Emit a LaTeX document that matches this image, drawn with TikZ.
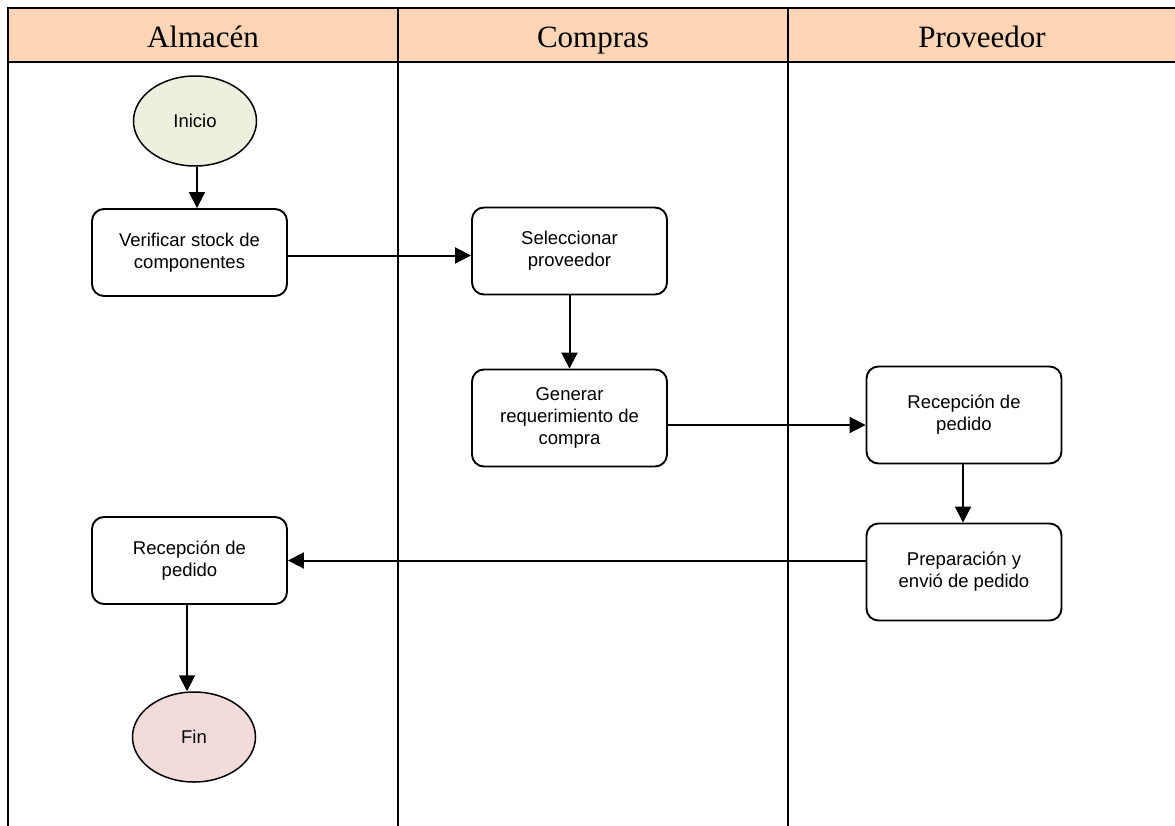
\documentclass[tikz,border=0pt]{standalone}
\usepackage{fontspec}
\setmainfont{Liberation Serif}
\newfontfamily\arial{Liberation Sans}
\usetikzlibrary{arrows.meta,calc,shapes.geometric}
\definecolor{headfill}{HTML}{FBD5B5}
\definecolor{startfill}{HTML}{EBF1DE}
\definecolor{endfill}{HTML}{F2DCDB}
\begin{document}
\begin{tikzpicture}[x=1pt,y=-1pt,
  lane/.style={draw=black,line width=1.5pt},
  headtxt/.style={font=\fontsize{31}{36}\selectfont,anchor=base,inner sep=0pt},
  proc/.style={draw=black,line width=1.9pt,rounded corners=12pt,fill=white,
    minimum width=195pt,minimum height=87pt,align=center,inner sep=0pt,
    font=\arial\fontsize{18.5}{22}\selectfont},
  term/.style={draw=black,line width=1.5pt,ellipse,minimum width=123pt,minimum height=90pt,
    inner sep=0pt,font=\arial\fontsize{18.5}{22}\selectfont},
  arr/.style={line width=2pt,-{Triangle[length=16pt,width=16pt]}}
]
\useasboundingbox (0,0) rectangle (1175,825);
% swimlane table
\fill[headfill] (8,8) rectangle (1176,62);
\draw[lane] (1176,8) -- (8,8) -- (8,826);
\draw[lane] (8,62) -- (1176,62);
\draw[lane] (398,8) -- (398,826);
\draw[lane] (788,8) -- (788,826);
\node[headtxt] (h1) at (203,47) {Almacén};
\node[headtxt] (h2) at (593,47) {Compras};
\node[headtxt] (h3) at (982,47) {Proveedor};
% nodes
\node[term,fill=startfill] (ini) at (195,121) {Inicio};
\node[proc] (ver) at (189.5,252.5) {Verificar stock de\\componentes};
\node[proc] (sel) at (569.5,251) {Seleccionar\\proveedor};
\node[proc,minimum height=97pt] (gen) at (569.5,418) {Generar\\requerimiento de\\compra};
\node[proc,minimum height=97pt] (recp) at (964,415) {Recepción de\\pedido};
\node[proc,minimum height=97pt] (prep) at (964,572) {Preparación y\\envió de pedido};
\node[proc,minimum height=87pt] (reca) at (189.5,560.5) {Recepción de\\pedido};
\node[term,fill=endfill] (fin) at (194,737) {Fin};
% connectors
\draw[arr] ([xshift=2pt]ini.south) -- ([xshift=2pt]ini.south |- ver.north);
\draw[arr] ([yshift=-3pt]ver.east) -- ([yshift=-3pt]ver.east -| sel.west);
\draw[arr] (sel.south) -- (gen.north);
\draw[arr] ([yshift=-7pt]gen.east) -- ([yshift=-7pt]gen.east -| recp.west);
\draw[arr] ([xshift=-1pt]recp.south) -- ([xshift=-1pt]prep.north);
\draw[arr] (prep.west |- reca.east) -- (reca.east);
\draw[arr] ([xshift=-2.5pt]reca.south) -- ([xshift=-2.5pt]reca.south |- fin.north);
\end{tikzpicture}
\end{document}
